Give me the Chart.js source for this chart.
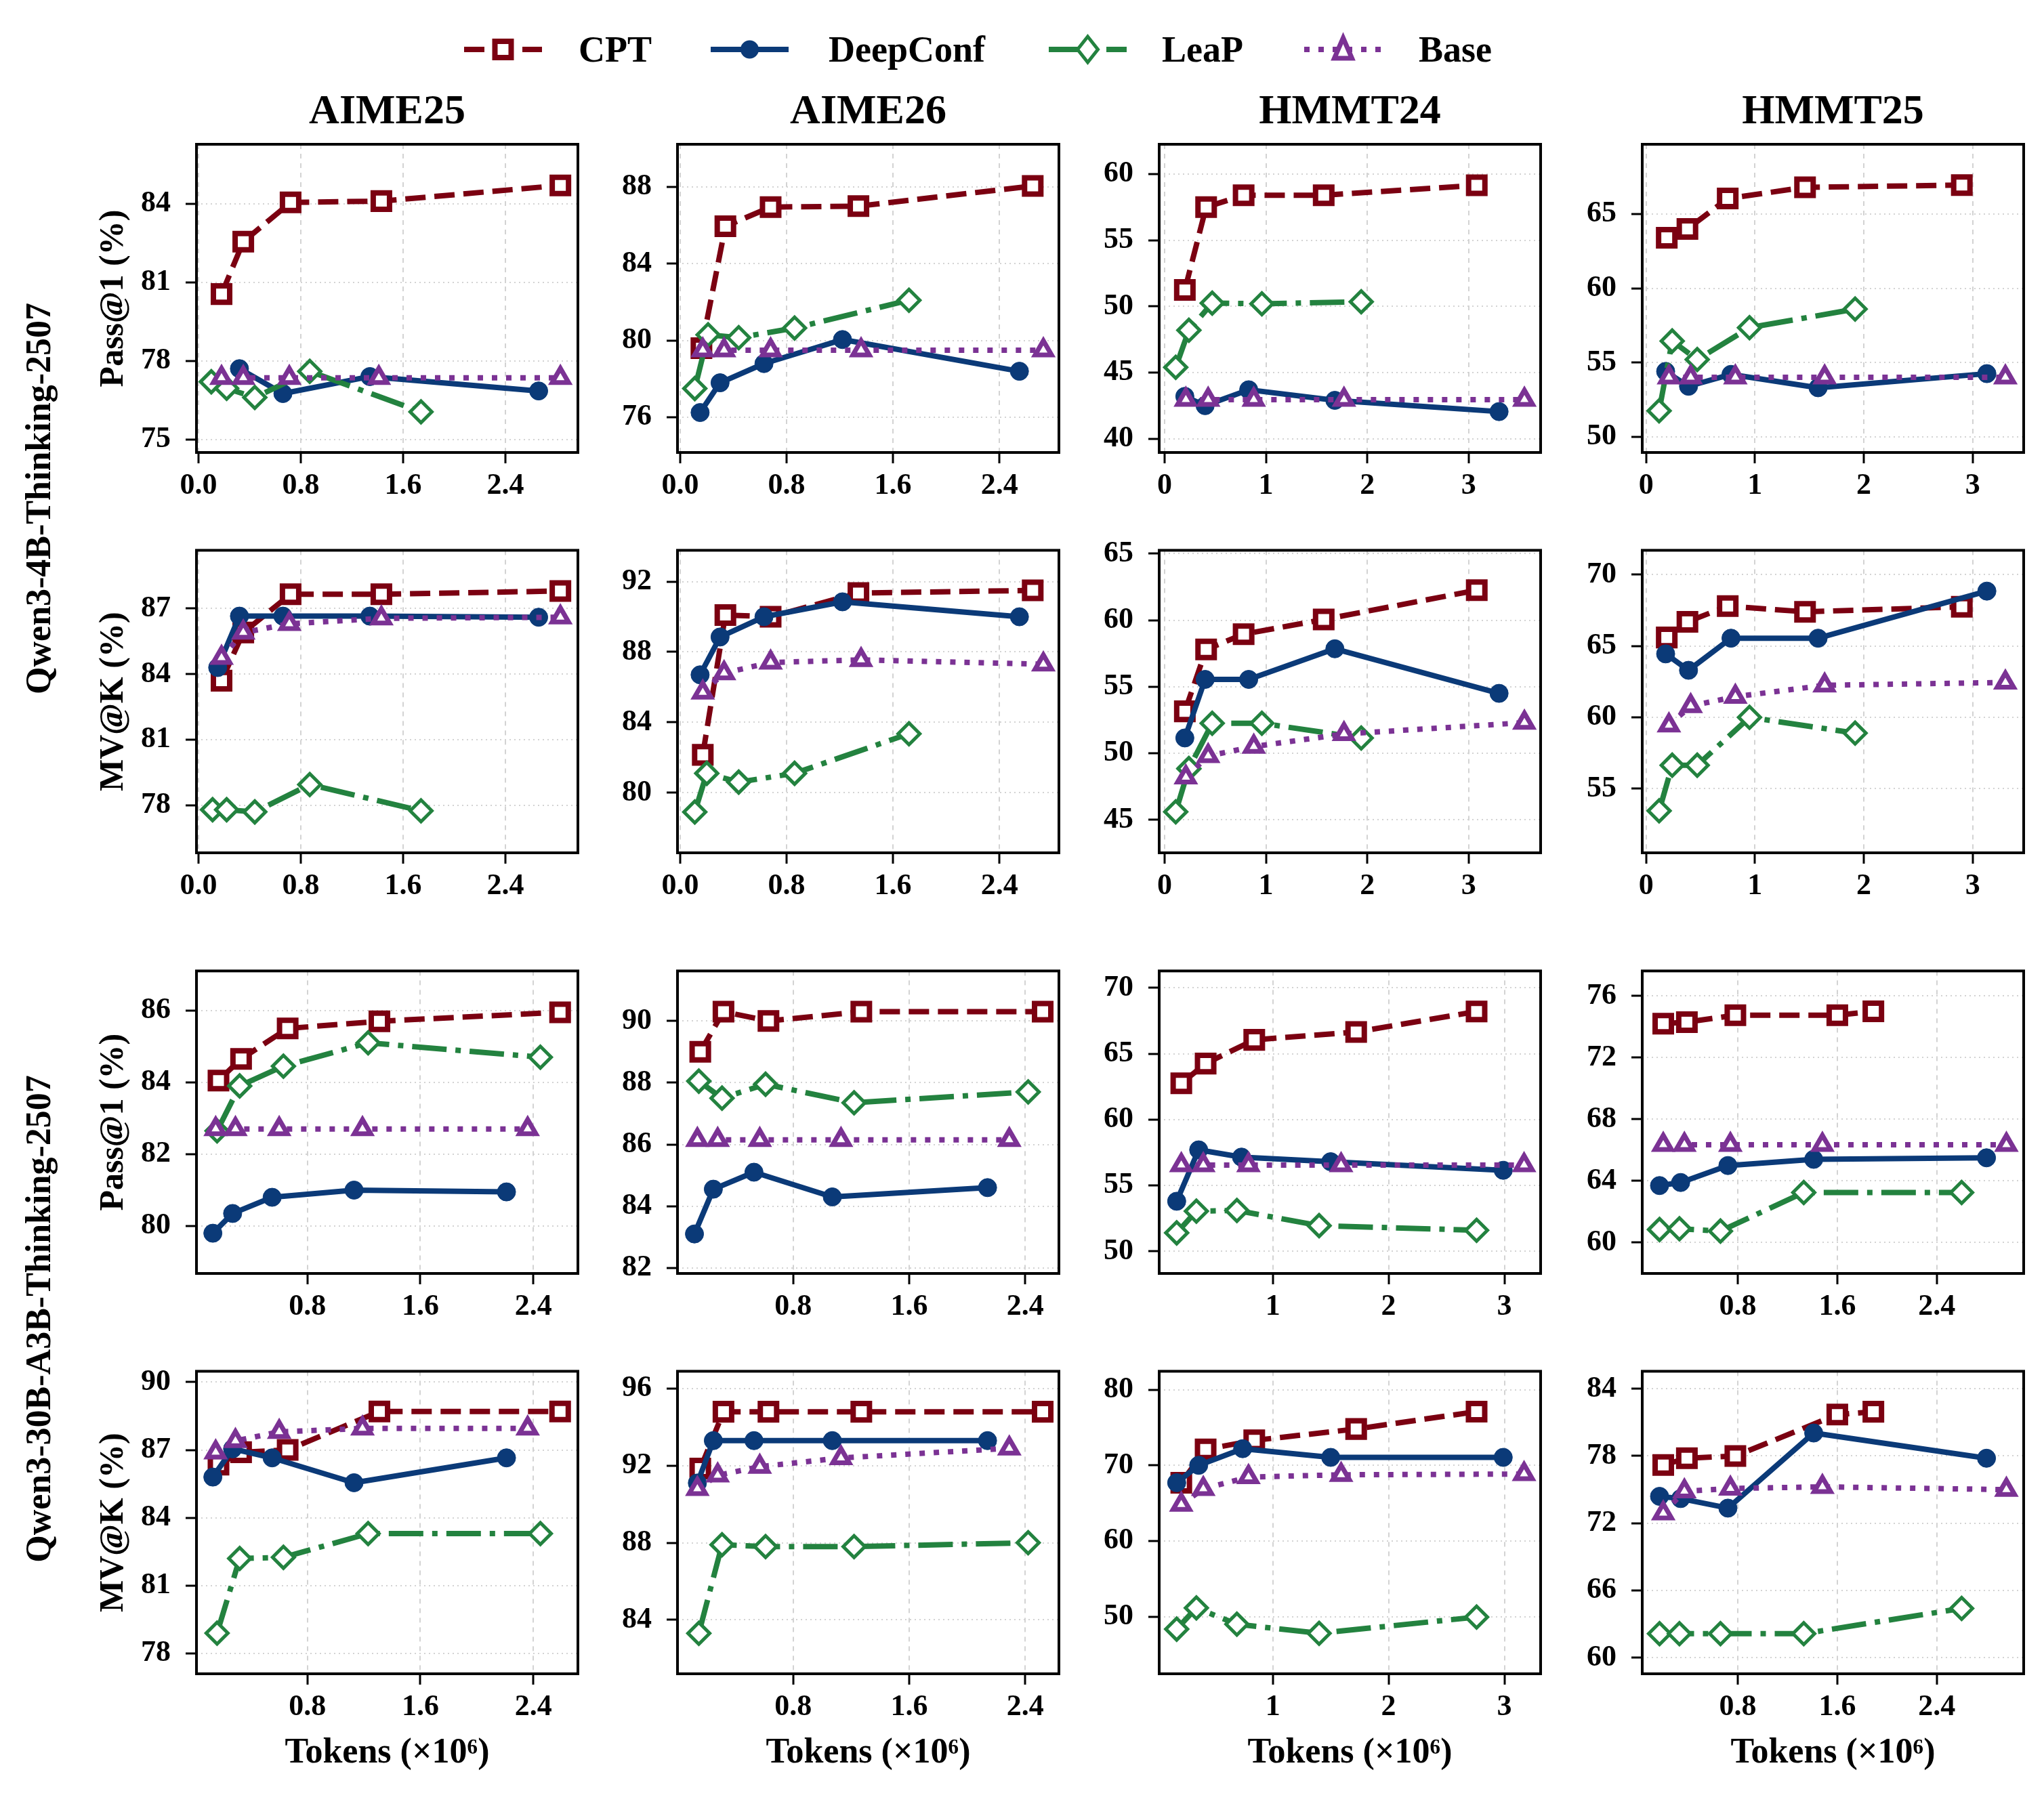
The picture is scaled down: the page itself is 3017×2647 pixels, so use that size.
<!DOCTYPE html>
<html>
<head>
<meta charset="utf-8">
<script src="https://cdn.jsdelivr.net/npm/chart.js@4.4.0/dist/chart.umd.min.js"></script>
<style>
  body { margin: 0; background: #fff; width: 3017px; height: 2647px; position: relative; overflow: hidden;
         font-family: "Liberation Serif", "Times New Roman", serif; }
  canvas { position: absolute; }
  .row-label { position: absolute; font-weight: bold; font-size: 52px; white-space: nowrap;
               transform: translate(-50%, -50%) rotate(-90deg); }
  .leg-text { position: absolute; font-weight: bold; font-size: 54px; line-height: 60px; }
  .leg-icon { position: absolute; }
</style>
</head>
<body>
<script>
// ---- data (tokens in millions, scores in %) ----
// each inner list: AIME25, AIME26, HMMT24, HMMT25
const benchmarks = ["AIME25", "AIME26", "HMMT24", "HMMT25"];
const methods = ["CPT", "DeepConf", "LeaP", "Base"];
const models = ["Qwen3-4B-Thinking-2507", "Qwen3-30B-A3B-Thinking-2507"];
const metrics = ["Pass@1 (%)", "MV@K (%)", "Pass@1 (%)", "MV@K (%)"];

// row 1: Qwen3-4B, Pass@1
const r1TokCPT = [[0.18,0.35,0.72,1.43,2.83],[0.16,0.34,0.68,1.34,2.65],[0.2,0.41,0.78,1.57,3.08],[0.19,0.38,0.75,1.46,2.9]];
const r1AccCPT = [[80.55,82.55,84.05,84.1,84.7],[79.6,85.95,86.95,87.0,88.05],[51.25,57.5,58.4,58.4,59.15],[63.4,64.0,66.05,66.8,66.95]];
const r1TokDeep = [[0.32,0.66,1.34,2.66],[0.15,0.3,0.63,1.22,2.55],[0.2,0.4,0.83,1.68,3.3],[0.18,0.39,0.78,1.58,3.13]];
const r1AccDeep = [[77.7,76.75,77.4,76.85],[76.25,77.8,78.8,80.05,78.4],[43.2,42.5,43.7,42.9,42.05],[54.4,53.4,54.2,53.3,54.25]];
const r1TokLeaP = [[0.1,0.22,0.44,0.87,1.74],[0.11,0.21,0.44,0.86,1.72],[0.11,0.24,0.47,0.96,1.94],[0.12,0.24,0.47,0.95,1.92]];
const r1AccLeaP = [[77.2,76.95,76.6,77.6,76.05],[77.5,80.3,80.15,80.65,82.1],[45.4,48.2,50.25,50.2,50.35],[51.75,56.45,55.2,57.35,58.6]];
const r1TokBase = [[0.18,0.35,0.71,1.41,2.83],[0.17,0.33,0.68,1.36,2.73],[0.21,0.43,0.88,1.77,3.55],[0.21,0.41,0.82,1.64,3.3]];
const r1AccBase = [[77.35,77.35,77.35,77.35,77.35],[79.5,79.5,79.5,79.5,79.5],[42.95,42.95,42.95,42.95,42.95],[54.0,54.0,54.0,54.0,54.0]];

// row 2: Qwen3-4B, MV@K
const r2TokCPT = [[0.18,0.35,0.72,1.43,2.83],[0.17,0.34,0.68,1.34,2.65],[0.2,0.41,0.78,1.57,3.08],[0.19,0.38,0.75,1.46,2.9]];
const r2AccCPT = [[83.7,85.9,87.65,87.65,87.8],[82.15,90.1,90.0,91.35,91.5],[53.15,57.8,58.95,60.05,62.25],[65.6,66.7,67.8,67.4,67.75]];
const r2TokDeep = [[0.15,0.32,0.66,1.34,2.66],[0.15,0.3,0.63,1.22,2.55],[0.2,0.4,0.83,1.68,3.3],[0.18,0.39,0.78,1.58,3.13]];
const r2AccDeep = [[84.3,86.65,86.65,86.65,86.6],[86.7,88.85,90.0,90.85,90.0],[51.15,55.55,55.55,57.85,54.5],[64.45,63.3,65.55,65.55,68.85]];
const r2TokLeaP = [[0.11,0.22,0.44,0.87,1.74],[0.11,0.2,0.44,0.86,1.72],[0.11,0.24,0.47,0.96,1.94],[0.12,0.24,0.47,0.95,1.92]];
const r2AccLeaP = [[77.8,77.8,77.7,78.95,77.75],[78.9,81.1,80.6,81.1,83.35],[45.6,48.85,52.25,52.25,51.15],[53.45,56.65,56.65,60.0,58.9]];
const r2TokBase = [[0.18,0.35,0.71,1.43,2.83],[0.17,0.33,0.68,1.36,2.73],[0.21,0.43,0.88,1.77,3.55],[0.21,0.41,0.82,1.64,3.3]];
const r2AccBase = [[84.75,85.9,86.3,86.55,86.6],[85.7,86.8,87.4,87.55,87.3],[48.2,49.8,50.5,51.45,52.3],[59.45,60.8,61.45,62.25,62.45]];

// row 3: Qwen3-30B-A3B, Pass@1
const r3TokCPT = [[0.17,0.33,0.66,1.31,2.59],[0.16,0.32,0.63,1.27,2.52],[0.21,0.42,0.84,1.72,2.76],[0.2,0.39,0.78,1.6,1.89]];
const r3AccCPT = [[84.05,84.65,85.5,85.7,85.95],[89.0,90.3,90.0,90.3,90.3],[62.75,64.25,66.05,66.65,68.2],[74.2,74.3,74.75,74.75,75.0]];
const r3TokDeep = [[0.13,0.27,0.55,1.13,2.21],[0.12,0.25,0.53,1.07,2.14],[0.17,0.36,0.73,1.5,2.99],[0.17,0.34,0.72,1.41,2.8]];
const r3AccDeep = [[79.8,80.35,80.8,81.0,80.95],[83.1,84.55,85.1,84.3,84.6],[53.8,57.7,57.15,56.8,56.15],[63.7,63.9,65.0,65.4,65.5]];
const r3TokLeaP = [[0.16,0.32,0.63,1.23,2.45],[0.15,0.31,0.61,1.22,2.42],[0.17,0.34,0.69,1.4,2.76],[0.17,0.33,0.66,1.33,2.6]];
const r3AccLeaP = [[82.65,83.9,84.45,85.1,84.7],[88.05,87.5,87.95,87.35,87.7],[51.4,53.05,53.1,51.95,51.6],[60.85,60.9,60.75,63.25,63.25]];
const r3TokBase = [[0.15,0.29,0.6,1.19,2.36],[0.14,0.28,0.57,1.13,2.29],[0.21,0.4,0.79,1.59,3.17],[0.2,0.37,0.74,1.48,2.96]];
const r3AccBase = [[82.7,82.7,82.7,82.7,82.7],[86.15,86.15,86.15,86.15,86.15],[56.55,56.55,56.55,56.55,56.55],[66.35,66.35,66.35,66.35,66.35]];

// row 4: Qwen3-30B-A3B, MV@K
const r4TokCPT = [[0.17,0.33,0.66,1.31,2.59],[0.16,0.32,0.63,1.27,2.52],[0.21,0.42,0.84,1.72,2.76],[0.2,0.39,0.78,1.6,1.89]];
const r4AccCPT = [[86.35,86.9,87.0,88.7,88.7],[91.85,94.8,94.8,94.8,94.8],[67.7,72.1,73.3,74.8,77.1],[77.2,77.8,78.0,81.7,81.95]];
const r4TokDeep = [[0.13,0.27,0.55,1.13,2.21],[0.14,0.25,0.53,1.07,2.14],[0.17,0.36,0.74,1.5,2.99],[0.17,0.34,0.72,1.41,2.8]];
const r4AccDeep = [[85.8,87.05,86.65,85.55,86.65],[91.1,93.3,93.3,93.3,93.3],[67.7,70.0,72.2,71.05,71.05],[74.4,74.2,73.35,80.05,77.8]];
const r4TokLeaP = [[0.16,0.32,0.63,1.23,2.45],[0.15,0.31,0.61,1.22,2.42],[0.17,0.34,0.69,1.4,2.76],[0.17,0.33,0.66,1.33,2.6]];
const r4AccLeaP = [[78.9,82.2,82.25,83.3,83.3],[83.3,87.9,87.8,87.8,88.0],[48.35,51.15,49.0,47.8,49.95],[62.15,62.15,62.15,62.15,64.4]];
const r4TokBase = [[0.15,0.29,0.6,1.19,2.36],[0.14,0.28,0.57,1.13,2.29],[0.21,0.4,0.79,1.59,3.17],[0.2,0.37,0.74,1.48,2.96]];
const r4AccBase = [[86.9,87.4,87.8,87.95,87.95],[90.8,91.5,91.95,92.4,92.9],[64.8,66.9,68.45,68.75,68.85],[72.9,74.85,75.1,75.25,75.0]];

// tick labels
const yTicks = [
  [[75,78,81,84],[76,80,84,88],[40,45,50,55,60],[50,55,60,65]],
  [[78,81,84,87],[80,84,88,92],[45,50,55,60,65],[55,60,65,70]],
  [[80,82,84,86],[82,84,86,88,90],[50,55,60,65,70],[60,64,68,72,76]],
  [[78,81,84,87,90],[84,88,92,96],[50,60,70,80],[60,66,72,78,84]]
];
const yRange = [
  [[74.5,86.27],[74.17,90.22],[38.96,62.25],[48.94,69.7]],
  [[75.83,89.66],[76.58,93.78],[42.52,65.25],[50.51,71.71]],
  [[78.68,87.1],[81.82,91.62],[48.32,71.28],[58.0,77.62]],
  [[77.1,90.48],[81.2,96.9],[42.45,82.43],[58.57,85.56]]
];
const xTicks4B = [[0,0.8,1.6,2.4],[0,0.8,1.6,2.4],[0,1,2,3],[0,1,2,3]];
const xTicks30B = [[0.8,1.6,2.4],[0.8,1.6,2.4],[1,2,3],[0.8,1.6,2.4]];
const xRange4B = [[-0.016,2.967],[-0.02,2.847],[-0.053,3.71],[-0.035,3.468]];
const xRange30B = [[0.014,2.716],[0.003,2.632],[0.019,3.313],[0.031,3.099]];

// ---- assemble ----
const rows = [
  { tok: [r1TokCPT, r1TokDeep, r1TokLeaP, r1TokBase], acc: [r1AccCPT, r1AccDeep, r1AccLeaP, r1AccBase], xt: xTicks4B, xr: xRange4B },
  { tok: [r2TokCPT, r2TokDeep, r2TokLeaP, r2TokBase], acc: [r2AccCPT, r2AccDeep, r2AccLeaP, r2AccBase], xt: xTicks4B, xr: xRange4B },
  { tok: [r3TokCPT, r3TokDeep, r3TokLeaP, r3TokBase], acc: [r3AccCPT, r3AccDeep, r3AccLeaP, r3AccBase], xt: xTicks30B, xr: xRange30B },
  { tok: [r4TokCPT, r4TokDeep, r4TokLeaP, r4TokBase], acc: [r4AccCPT, r4AccDeep, r4AccLeaP, r4AccBase], xt: xTicks30B, xr: xRange30B }
];

const styles = [
  { color: "#7b0011", dash: [30, 13], point: "rect", radius: 17, bw: 8, fill: "#ffffff" },
  { color: "#0b3a78", dash: [], point: "circle", radius: 13.5, bw: 1, fill: "#0b3a78" },
  { color: "#23823f", dash: [51, 13, 8, 13], point: "rectRot", radius: 16, bw: 5, fill: "#ffffff" },
  { color: "#7b3294", dash: [8, 13], point: "triangle", radius: 14, bw: 7, fill: "#ffffff" }
];

Chart.defaults.font.family = "'Liberation Serif', 'Times New Roman', serif";
Chart.defaults.color = "#000";

// all four spines
const framePlugin = {
  id: "frame",
  afterDatasetsDraw(chart) {
    const { ctx, chartArea: a } = chart;
    ctx.save();
    ctx.strokeStyle = "#000";
    ctx.lineWidth = 4;
    ctx.strokeRect(a.left, a.top, a.right - a.left, a.bottom - a.top);
    ctx.restore();
  }
};

const colLeft = [290, 1000, 1711, 2424];
const rowTop = [213, 804, 1425, 2016];
const PW = 563, PH = 455, AXW = 200, RM = 40;

function fmt(ticks) {
  const dec = ticks.some(v => !Number.isInteger(v)) ? 1 : 0;
  return v => Number(v).toFixed(dec);
}

for (let r = 0; r < 4; r++) {
  for (let c = 0; c < 4; c++) {
    const row = rows[r];
    const hasTitle = r === 0, hasXTitle = r === 3;
    const topM = hasTitle ? 120 : 40;
    const xh = hasXTitle ? 170 : 90;

    const cv = document.createElement("canvas");
    cv.width = AXW + PW + RM;
    cv.height = topM + PH + xh;
    cv.style.left = (colLeft[c] - AXW) + "px";
    cv.style.top = (rowTop[r] - topM) + "px";
    document.body.appendChild(cv);

    const datasets = methods.map((m, k) => ({
      label: m,
      data: row.tok[k][c].map((x, i) => ({ x: x, y: row.acc[k][c][i] })),
      borderColor: styles[k].color,
      borderWidth: 8,
      borderDash: styles[k].dash,
      borderJoinStyle: "round",
      tension: 0,
      fill: false,
      pointStyle: styles[k].point,
      pointRadius: styles[k].radius,
      pointBorderWidth: styles[k].bw,
      pointBorderColor: styles[k].color,
      pointBackgroundColor: styles[k].fill,
      order: 3 - k
    }));

    const xt = row.xt[c], yt = yTicks[r][c];

    new Chart(cv, {
      type: "line",
      data: { datasets: datasets },
      options: {
        responsive: false,
        animation: false,
        devicePixelRatio: 1,
        layout: { padding: { left: 0, right: RM, top: hasTitle ? 0 : 40, bottom: 0 } },
        plugins: {
          legend: { display: false },
          tooltip: { enabled: false },
          title: {
            display: hasTitle,
            fullSize: false,
            text: benchmarks[c],
            font: { size: 62, weight: "bold", lineHeight: 1.2 },
            color: "#000",
            padding: { top: 35.8, bottom: 9.8 }
          }
        },
        scales: {
          x: {
            type: "linear",
            bounds: "data",
            min: row.xr[c][0],
            max: row.xr[c][1],
            afterBuildTicks: s => { s.ticks = xt.map(v => ({ value: v })); },
            afterFit: s => { s.height = xh; },
            ticks: { autoSkip: false, maxRotation: 0, padding: 7, color: "#000",
                     font: { size: 44, weight: "bold" }, callback: fmt(xt) },
            grid: { color: "#d3d3d3", lineWidth: 2, tickLength: 16, tickColor: "#000", tickWidth: 3 },
            border: { display: false, dash: [7, 7] },
            title: { display: hasXTitle, text: "Tokens (\u00d710\u2076)", color: "#000",
                     font: { size: 52, weight: "bold" }, padding: { top: 0, bottom: 21 } }
          },
          y: {
            type: "linear",
            bounds: "data",
            min: yRange[r][c][0],
            max: yRange[r][c][1],
            afterBuildTicks: s => { s.ticks = yt.map(v => ({ value: v })); },
            afterFit: s => { s.width = AXW; },
            ticks: { autoSkip: false, padding: 22, color: "#000",
                     font: { size: 44, weight: "bold" }, callback: fmt(yt) },
            grid: { color: "#d3d3d3", lineWidth: 2, tickLength: 16, tickColor: "#000", tickWidth: 3 },
            border: { display: false, dash: [2, 5] },
            title: { display: c === 0, text: metrics[r], color: "#000",
                     font: { size: 50, weight: "bold" }, padding: { top: 48, bottom: 0 } }
          }
        }
      },
      plugins: [framePlugin]
    });
  }
}

// row labels
[[models[0], 736], [models[1], 1947]].forEach(([txt, y]) => {
  const d = document.createElement("div");
  d.className = "row-label";
  d.textContent = txt;
  d.style.left = "56px";
  d.style.top = y + "px";
  document.body.appendChild(d);
});

// legend
const legIconLeft = [685, 1049, 1548, 1925];
const legTextLeft = [854, 1223, 1715, 2094];
methods.forEach((m, k) => {
  const s = styles[k];
  const w = 115, h = 60, cx = 57.5, cy = 30;
  let mk = "";
  if (s.point === "rect") mk = `<rect x="${cx-12}" y="${cy-12}" width="24" height="24" fill="#fff" stroke="${s.color}" stroke-width="8"/>`;
  if (s.point === "circle") mk = `<circle cx="${cx}" cy="${cy}" r="13.5" fill="${s.color}"/>`;
  if (s.point === "rectRot") mk = `<polygon points="${cx},${cy-19} ${cx+15},${cy} ${cx},${cy+19} ${cx-15},${cy}" fill="#fff" stroke="${s.color}" stroke-width="5"/>`;
  if (s.point === "triangle") mk = `<polygon points="${cx},${cy-17} ${cx+13},${cy+13} ${cx-13},${cy+13}" fill="#fff" stroke="${s.color}" stroke-width="7"/>`;
  const svg = document.createElementNS("http://www.w3.org/2000/svg", "svg");
  svg.setAttribute("width", w); svg.setAttribute("height", h);
  svg.setAttribute("class", "leg-icon");
  svg.style.left = legIconLeft[k] + "px";
  svg.style.top = (73 - cy) + "px";
  svg.innerHTML = `<line x1="0" y1="${cy}" x2="${w}" y2="${cy}" stroke="${s.color}" stroke-width="8" stroke-dasharray="${s.dash.length ? s.dash.join(" ") : "none"}"/>` + mk;
  document.body.appendChild(svg);
  const t = document.createElement("div");
  t.className = "leg-text";
  t.textContent = m;
  t.style.left = legTextLeft[k] + "px";
  t.style.top = (73 - 30) + "px";
  document.body.appendChild(t);
});
</script>
</body>
</html>
